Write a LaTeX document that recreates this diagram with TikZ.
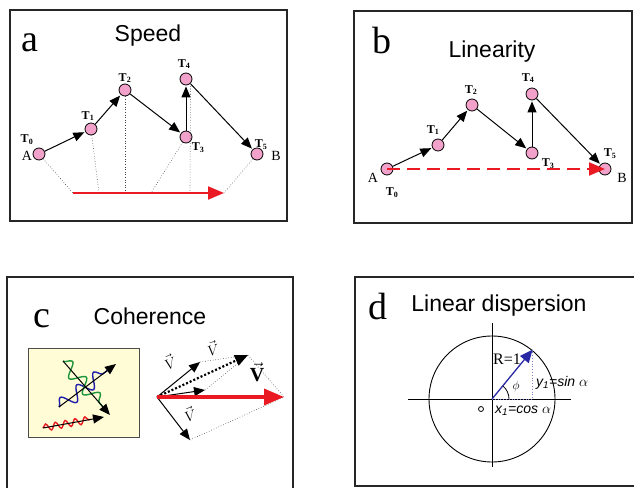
\documentclass[tikz,border=0pt]{standalone}
\usepackage{fontspec}
\setmainfont{Liberation Serif}
\setsansfont{Liberation Sans}
\usetikzlibrary{positioning,arrows.meta,calc,decorations.pathmorphing}
\definecolor{nodepink}{RGB}{242,162,202}
\definecolor{vecred}{RGB}{234,26,34}
\definecolor{insetyellow}{RGB}{255,252,214}
\definecolor{waveblue}{RGB}{30,30,170}
\definecolor{wavegreen}{RGB}{30,150,60}
\definecolor{radblue}{RGB}{40,40,165}

\begin{document}
\begin{tikzpicture}[x=1pt,y=1pt,
  panel/.style={draw=black!85,line width=1.5pt},
  title/.style={font=\sffamily\fontsize{23}{26}\selectfont,inner sep=0pt},
  letter/.style={font=\fontsize{38}{40}\selectfont,inner sep=0pt},
  tnode/.style={circle,draw,fill=nodepink,minimum size=12pt,inner sep=0pt,line width=0.8pt},
  tlab/.style={font=\bfseries\fontsize{12}{14}\selectfont,inner sep=0pt},
  endlab/.style={font=\fontsize{14}{16}\selectfont,inner sep=0pt},
  arr/.style={-{Triangle[length=11pt,width=9pt]},line width=1pt,shorten >=1pt},
  proj/.style={dotted,line width=0.6pt,black!75},
  redarr/.style={-{Triangle[length=16pt,width=13pt]},line width=2pt,vecred},
  wave/.style={decorate,decoration={snake,amplitude=7pt,segment length=21pt},line width=1.4pt},
  smallwave/.style={decorate,decoration={snake,amplitude=3.5pt,segment length=10pt},line width=1.4pt},
  vlab/.style={font=\fontsize{14}{15}\selectfont,inner sep=0pt},
  dlab/.style={font=\sffamily\itshape\fontsize{14}{16}\selectfont,inner sep=0pt},
]
\useasboundingbox (0,0) rectangle (634,-487);

% === a: Speed ===
\draw[panel] (10,-10) rectangle (287,-221);
\node[letter] (aletter) at (30,-43) {a};
\node[title] (atitle) at (148,-36) {Speed};

\node[tnode] (a0) at (39,-154) {};
\node[tnode] (a1) at (91,-129) {};
\node[tnode] (a2) at (125,-90) {};
\node[tnode] (a3) at (186,-137) {};
\node[tnode] (a4) at (186,-79) {};
\node[tnode] (a5) at (257,-154) {};

\node[tlab] (a0lab) at (27,-140) {T\textsubscript{0}};
\node[tlab] (a1lab) at (88,-116) {T\textsubscript{1}};
\node[tlab] (a2lab) at (125,-78) {T\textsubscript{2}};
\node[tlab] (a3lab) at (198,-148) {T\textsubscript{3}};
\node[tlab] (a4lab) at (184,-64) {T\textsubscript{4}};
\node[tlab] (a5lab) at (261,-145) {T\textsubscript{5}};
\node[endlab] (alabA) at (27,-156) {A};
\node[endlab] (alabB) at (276,-156) {B};

\draw[arr] (a0) -- (a1);
\draw[arr] (a1) -- (a2);
\draw[arr] (a2) -- (a3);
\draw[arr] (a3) -- (a4);
\draw[arr] (a4) -- (a5);

% projections onto the red line
\coordinate (pa0) at (73,-193);
\coordinate (pa1) at (99,-193);
\coordinate (pa2) at (125,-193);
\coordinate (pa3) at (151,-193);
\coordinate (pa4) at (190,-193);
\coordinate (pa5) at (224,-193);
\draw[proj] (a0) -- (pa0);
\draw[proj] (a1) -- (pa1);
\draw[proj] (a2) -- (pa2);
\draw[proj] (a3) -- (pa3);
\draw[proj] (a4.south east) -- (pa4);
\draw[proj] (a5) -- (pa5);
\draw[redarr] (pa0) -- (pa5);

% === b: Linearity ===
\draw[panel] (354,-11) rectangle (632,-223);
\node[letter] (bletter) at (382,-41) {b};
\node[title] (btitle) at (492,-52) {Linearity};

\node[tnode] (b0) at (387,-169) {};
\node[tnode] (b1) at (438,-145) {};
\node[tnode] (b2) at (472,-105) {};
\node[tnode] (b3) at (532,-153) {};
\node[tnode] (b4) at (532,-94) {};
\node[tnode] (b5) at (605,-169) {};

\node[tlab] (b0lab) at (392,-193) {T\textsubscript{0}};
\node[tlab] (b1lab) at (433,-130) {T\textsubscript{1}};
\node[tlab] (b2lab) at (471,-90) {T\textsubscript{2}};
\node[tlab] (b3lab) at (548,-164) {T\textsubscript{3}};
\node[tlab] (b4lab) at (528,-78) {T\textsubscript{4}};
\node[tlab] (b5lab) at (610,-154) {T\textsubscript{5}};
\node[endlab] (blabA) at (373,-178) {A};
\node[endlab] (blabB) at (622,-178) {B};

\draw[arr] (b0) -- (b1);
\draw[arr] (b1) -- (b2);
\draw[arr] (b2) -- (b3);
\draw[arr] (b3) -- (b4);
\draw[arr] (b4) -- (b5);
\draw[redarr,dash pattern=on 13pt off 7pt] (b0.center) -- (b5.center);

% === c: Coherence ===
\draw[panel] (7,-495) -- (7,-277) -- (293,-277) -- (293,-495);
\node[letter] (cletter) at (42,-319) {c};
\node[title] (ctitle) at (150,-316) {Coherence};

\node[draw=black!70,fill=insetyellow,line width=1pt,minimum width=111pt,minimum height=89pt,inner sep=0pt] (inset) at (83.5,-392.5) {};
\coordinate (w1s) at (59,-407);  \coordinate (w1e) at (116,-364);
\coordinate (w2s) at (63,-361);  \coordinate (w2e) at (110,-415);
\coordinate (w3s) at (43,-428);  \coordinate (w3e) at (104,-417);
\draw[wave,waveblue] (w1s) -- ($(w1s)!0.86!(w1e)$);
\draw[wave,wavegreen] (w2s) -- ($(w2s)!0.86!(w2e)$);
\draw[smallwave,vecred] (w3s) -- ($(w3s)!0.78!(w3e)$);
\draw[arr,shorten >=0pt] (w1s) -- (w1e);
\draw[arr,shorten >=0pt] (w2s) -- (w2e);
\draw[arr,shorten >=0pt] (w3s) -- (w3e);

% vector sum
\coordinate (O) at (157,-397);
\coordinate (v1) at (200,-362);
\coordinate (v2) at (205,-390);
\coordinate (v12) at (248,-355);
\coordinate (v3) at (190,-440);
\coordinate (vsum) at (284,-397);
\draw[proj] (v1) -- (v12);
\draw[proj] (v2) -- (v12);
\draw[proj] (v12) -- (vsum);
\draw[proj] (v3) -- (vsum);
\draw[arr,shorten >=0pt] (O) -- (v1);
\draw[arr,shorten >=0pt] (O) -- (v2);
\draw[arr,shorten >=0pt] (O) -- (v3);
\draw[-{Triangle[length=13pt,width=11pt]},line width=2.2pt,dash pattern=on 2pt off 2pt] (O) -- (v12);
\draw[-{Triangle[length=20pt,width=16pt]},line width=3.5pt,vecred] (O) -- (vsum);

\node[vlab,rotate=25] (v1lab) at (170,-362) {$\vec{V}$};
\node[vlab,rotate=15] (v12lab) at (213,-348) {$\vec{V}$};
\node[vlab,rotate=20] (v3lab) at (190,-414) {$\vec{V}$};
\node[font=\fontsize{20}{21}\selectfont,inner sep=0pt] (vsumlab) at (257,-372) {$\vec{\mathbf{V}}$};

% === d: Linear dispersion ===
\draw[panel] (640,-277) -- (355,-277) -- (355,-486) -- (640,-486);
\node[letter] (dletter) at (378,-306) {d};
\node[title] (dtitle) at (499,-306) {Linear dispersion};

\coordinate (dO) at (492,-399);
\coordinate (xl) at (408,-399);  \coordinate (xr) at (571,-399);
\coordinate (yt) at (492,-323);  \coordinate (yb) at (492,-467);
\draw[line width=0.9pt] (dO) circle (63);
\draw[line width=0.9pt] (xl) -- (xr);
\draw[line width=0.9pt] (yt) -- (yb);
\coordinate (dtip) at ($(dO)+(50.6:64)$);
\coordinate (dfoot) at (dtip |- dO);
\draw[radblue!60,dotted,line width=0.8pt] (dtip) -- (dfoot);
\draw[radblue!60,dotted,line width=0.8pt] (dO) -- (dfoot);
\draw[line width=0.8pt] ($(dO)+(17,0)$) arc (0:50.6:17);
\draw[-{Triangle[length=13pt,width=11pt]},line width=1.3pt,radblue] (dO) -- (dtip);

\node[endlab,font=\fontsize{16}{18}\selectfont] (rlab) at (507,-359) {R=1};
\node[inner sep=0pt,font=\fontsize{12}{14}\selectfont] (philab) at (516,-386) {$\phi$};
\node[dlab,anchor=west] (ylab) at (536,-383) {y\textsubscript{1}=sin $\alpha$};
\node[dlab,anchor=west] (xlab) at (495,-411) {x\textsubscript{1}=cos $\alpha$};
\node[circle,draw,line width=0.8pt,minimum size=5pt,inner sep=0pt] (olab) at (481,-409) {};

\end{tikzpicture}
\end{document}
